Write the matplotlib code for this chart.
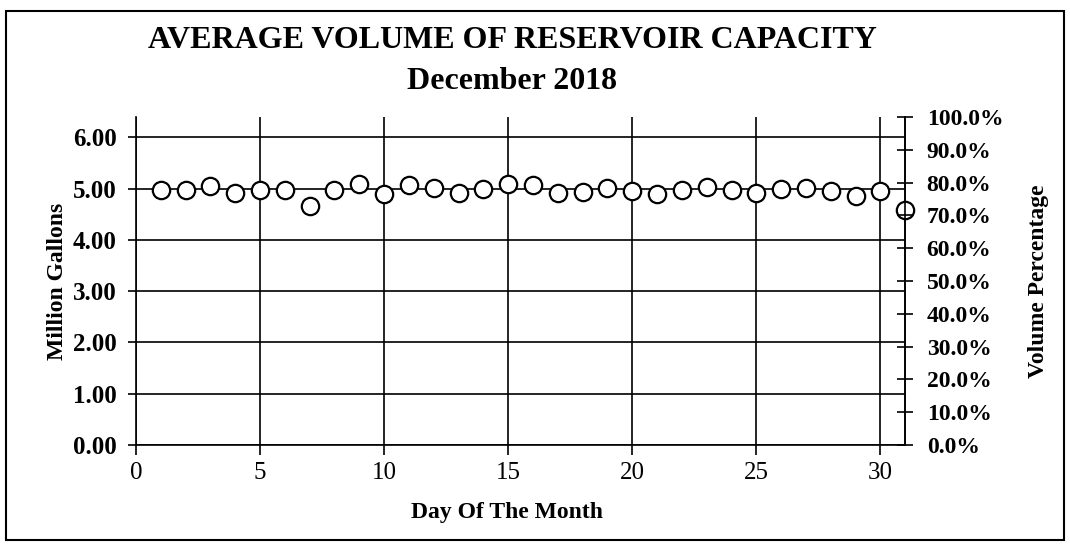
import numpy as np
import matplotlib
matplotlib.use("Agg")
import matplotlib.pyplot as plt
from matplotlib.patches import Rectangle
from matplotlib.ticker import PercentFormatter

# daily average volume, million gallons
days = np.arange(1, 32)
volume = [4.97, 4.97, 5.06, 4.92, 4.97, 4.97, 4.67, 4.97, 5.10, 4.89,
          5.07, 5.01, 4.91, 5.00, 5.10, 5.08, 4.92, 4.93, 5.02, 4.95,
          4.89, 4.97, 5.04, 4.97, 4.91, 4.99, 5.02, 4.95, 4.86, 4.95,
          4.58]
xticks = [0, 5, 10, 15, 20, 25, 30]
yticks = [0, 1, 2, 3, 4, 5, 6]
pct_ticks = np.arange(0, 1.01, 0.1)

plt.rcParams['font.family'] = ['Liberation Serif', 'DejaVu Serif']

fig = plt.figure(figsize=(10.7, 5.44), dpi=100)
ax = fig.add_axes([0.127, 0.182, 0.719, 0.603])

ax.plot(days, volume, 'o', ms=12.5, mfc='white', mec='black', mew=1.6,
        zorder=5, clip_on=False)

ax.set_xlim(0, 31)
ax.set_ylim(0, 6.4)
ax.set_xticks(xticks)
ax.set_yticks(yticks)
ax.set_yticklabels(["%.2f" % v for v in yticks], fontsize=18, fontweight='bold')
ax.set_xticklabels([str(v) for v in xticks], fontsize=18)
ax.grid(True, color='black', lw=1.2)
ax.set_axisbelow(True)
ax.tick_params(axis='y', direction='out', length=6, width=1.2, pad=8)
ax.tick_params(axis='x', direction='out', length=7, width=1.2, pad=5)
ax.spines['top'].set_visible(False)
for s in ['left', 'right', 'bottom']:
    ax.spines[s].set_linewidth(1.2)

ax.set_ylabel("Million Gallons", fontsize=17, fontweight='bold', labelpad=3)
ax.set_xlabel("Day Of The Month", fontsize=17, fontweight='bold', labelpad=8)
ax.xaxis.set_label_coords(0.482, -0.175)

ax2 = ax.twinx()
ax2.set_ylim(0, 1)
ax2.set_yticks(pct_ticks)
ax2.yaxis.set_major_formatter(PercentFormatter(1.0, decimals=1))
for t in ax2.get_yticklabels():
    t.set_fontsize(17)
    t.set_fontweight('bold')
ax2.tick_params(axis='y', direction='inout', length=11, width=1.2, pad=10)
for s in ['top', 'left', 'bottom']:
    ax2.spines[s].set_visible(False)
ax2.spines['right'].set_linewidth(1.2)
ax2.set_ylabel("Volume Percentage", fontsize=17, fontweight='bold', labelpad=18)

fig.text(0.479, 0.925, "AVERAGE VOLUME OF RESERVOIR CAPACITY", ha='center',
         va='center', fontsize=23, fontweight='bold')
fig.text(0.479, 0.85, "December 2018", ha='center', va='center',
         fontsize=23, fontweight='bold')

fig.patches.append(Rectangle((0.006, 0.008), 0.988, 0.972, transform=fig.transFigure,
                             fill=False, edgecolor='black', lw=1.5))

fig.savefig("out.png", dpi=100)
